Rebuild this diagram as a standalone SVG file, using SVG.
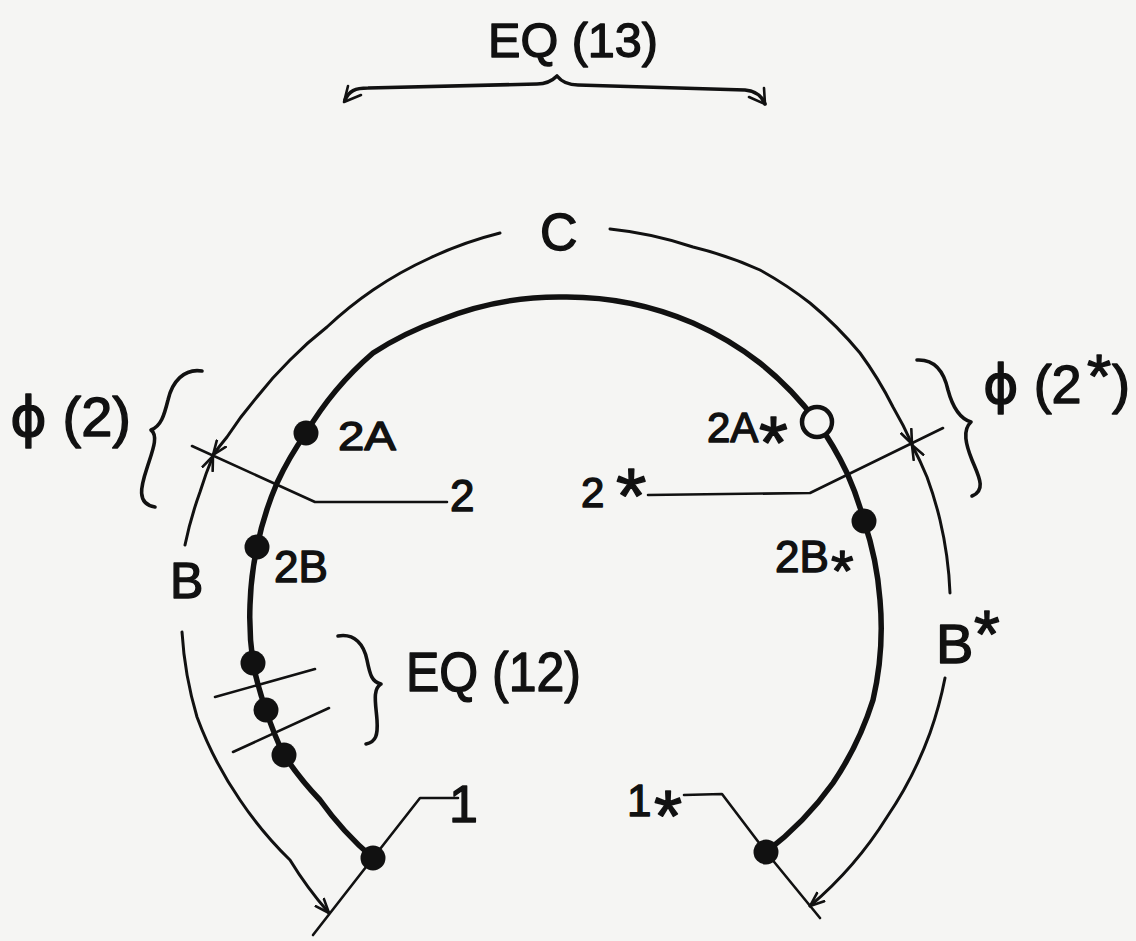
<svg xmlns="http://www.w3.org/2000/svg" width="1136" height="941" viewBox="0 0 1136 941">
<defs>
<style>
.t{font-family:"Liberation Sans",Arial,sans-serif;fill:#111;stroke:#111;stroke-width:1.4;stroke-linejoin:round}
.phi{font-family:"DejaVu Sans","Liberation Sans",sans-serif}
.main{fill:none;stroke:#111;stroke-width:5.5;stroke-linecap:round;stroke-linejoin:round}
.arc{fill:none;stroke:#111;stroke-width:3;stroke-linecap:round}
.tick{fill:none;stroke:#111;stroke-width:2.6;stroke-linecap:round;stroke-linejoin:round}
.brace{fill:none;stroke:#111;stroke-width:3.6;stroke-linecap:round;stroke-linejoin:round}
.dot{fill:#111}
</style>
<marker id="ah" markerUnits="userSpaceOnUse" markerWidth="18" markerHeight="14" viewBox="0 -7 18 14" refX="15" refY="0" orient="auto-start-reverse">
<path d="M1,-5.5 L15,0 L1,5.5" fill="none" stroke="#111" stroke-width="2.6" stroke-linecap="round" stroke-linejoin="round"/>
</marker>
</defs>
<rect width="1136" height="941" fill="#f5f5f3"/>

<g id="connectors">
<path class="main" d="M373,858 A320,320 0 0 1 320,800 A320,320 0 0 1 284,755 A320,320 0 0 1 266,710 A320,320 0 0 1 253,663 A320,320 0 0 1 250,605 A320,320 0 0 1 257,547 A320,320 0 0 1 277,483 A320,320 0 0 1 306,433 A320,320 0 0 1 373,353 A320,320 0 0 1 440,320 A320,320 0 0 1 565,297 A320,320 0 0 1 693,323 A320,320 0 0 1 760,363 A320,320 0 0 1 817,422 A320,320 0 0 1 847,473 A320,320 0 0 1 864,521 A320,320 0 0 1 880,600 A320,320 0 0 1 873,700 A320,320 0 0 1 833,783 A320,320 0 0 1 766,852"/>
<path class="arc" marker-end="url(#ah)" d="M500,233 A380,380 0 0 0 430,258 A380,380 0 0 0 373,290 A380,380 0 0 0 327,327 A380,380 0 0 0 290,360 A380,380 0 0 0 257,397 A380,380 0 0 0 227,437 A380,380 0 0 0 213,455"/>
<path class="arc" marker-end="url(#ah)" d="M610,229 A380,380 0 0 1 693,247 A380,380 0 0 1 760,270 A380,380 0 0 1 810,303 A380,380 0 0 1 860,353 A380,380 0 0 1 893,407 A380,380 0 0 1 912,444"/>
<path class="arc" marker-start="url(#ah)" d="M213,456 A380,380 0 0 0 200,492 A380,380 0 0 0 185,545"/>
<path class="arc" marker-end="url(#ah)" d="M182,632 A380,380 0 0 0 197,717 A380,380 0 0 0 240,800 A380,380 0 0 0 290,860 A380,380 0 0 0 329,913"/>
<path class="arc" marker-start="url(#ah)" d="M912,445 A380,380 0 0 1 927,477 A380,380 0 0 1 940,520 A380,380 0 0 1 950,593"/>
<path class="arc" marker-end="url(#ah)" d="M945,678 A380,380 0 0 1 930,733 A380,380 0 0 1 887,817 A380,380 0 0 1 810,906"/>
<polyline class="tick" points="192,446 315,502 447,502"/>
<polyline class="tick" points="943,428 810,493 648,495"/>
<polyline class="tick" points="458,798 420,798 373,858 313,935"/>
<polyline class="tick" points="684,795 722,794 766,852 820,918"/>
<line class="tick" x1="215" y1="697" x2="315" y2="669"/>
<line class="tick" x1="233" y1="752" x2="329" y2="708"/>
<path class="brace" d="M202,371 C184,368 172,382 168,400 C164,416 161,426 151,430 C159,436 152,452 147,468 C141,486 136,504 155,507"/>
<path class="brace" d="M917,360 C935,359 944,372 948,390 C952,405 958,418 971,422 C962,430 966,445 972,460 C978,475 987,490 972,496"/>
<path class="brace" d="M338,636 C355,633 364,645 367,660 C370,675 372,682 381,684 C372,689 376,705 377,720 C378,735 376,742 366,744"/>
<path class="brace" d="M345,100 C349,91 355,88 368,88 L537,84 C548,84 553,80 557,76 C561,81 567,85 578,85 L745,90 C756,91 762,96 765,104"/>
<path class="tick" d="M361,95 L344,102 L348,86"/>
<path class="tick" d="M749,97 L765,104 L764,88"/>
</g>

<g id="label-eq13"><text class="t" x="488" y="57" font-size="49" textLength="170" lengthAdjust="spacingAndGlyphs">EQ (13)</text></g>
<g id="label-c"><text class="t" x="540" y="250" font-size="52">C</text></g>
<g id="label-b"><text class="t" x="170" y="598" font-size="50">B</text></g>
<g id="label-bstar"><text class="t" x="936" y="663" font-size="56">B<tspan x="974" y="657" font-size="66">*</tspan></text></g>
<g id="label-phi2"><text class="t" x="10" y="436" font-size="56"><tspan class="phi">ϕ</tspan> (2)</text></g>
<g id="label-phi2star"><text class="t" x="983" y="403" font-size="54"><tspan class="phi">ϕ</tspan> (2<tspan x="1087" y="397" font-size="62">*</tspan><tspan x="1112" y="403">)</tspan></text></g>
<g id="label-eq12"><text class="t" x="406" y="691" font-size="56" textLength="175" lengthAdjust="spacingAndGlyphs">EQ (12)</text></g>

<g id="node-2A"><circle class="dot" cx="306" cy="433" r="12.5"/><text class="t" x="338" y="450" font-size="41" textLength="58" lengthAdjust="spacingAndGlyphs">2A</text></g>
<g id="node-2B"><circle class="dot" cx="257" cy="547" r="12.5"/><text class="t" x="274" y="582" font-size="44">2B</text></g>
<g id="node-2"><text class="t" x="450" y="511" font-size="44">2</text></g>
<g id="node-eq12-points"><circle class="dot" cx="253" cy="663" r="12.5"/><circle class="dot" cx="266" cy="710" r="12.5"/><circle class="dot" cx="284" cy="755" r="12.5"/></g>
<g id="node-1"><circle class="dot" cx="373" cy="858" r="12.5"/><text class="t" x="449" y="822" font-size="52">1</text></g>
<g id="node-2Astar"><circle cx="817" cy="422" r="15" fill="#f5f5f3" stroke="#111" stroke-width="4.5"/><text class="t" x="707" y="442" font-size="42">2A<tspan x="759" y="468" font-size="74">*</tspan></text></g>
<g id="node-2star"><text class="t" x="581" y="507" font-size="42">2<tspan x="616" y="523" font-size="78">*</tspan></text></g>
<g id="node-2Bstar"><circle class="dot" cx="864" cy="521" r="12.5"/><text class="t" x="775" y="572" font-size="44">2B<tspan x="831" y="591" font-size="58">*</tspan></text></g>
<g id="node-1star"><circle class="dot" cx="766" cy="852" r="12.5"/><text class="t" x="627" y="816" font-size="44">1<tspan x="654" y="841" font-size="72">*</tspan></text></g>
</svg>
